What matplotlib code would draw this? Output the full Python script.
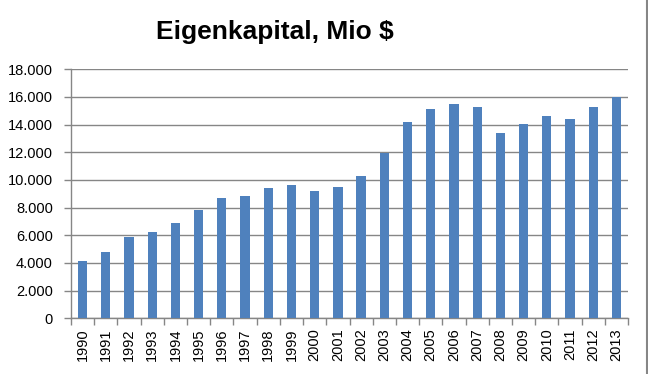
import numpy as np
import matplotlib
matplotlib.use('Agg')
import matplotlib.pyplot as plt
from matplotlib.lines import Line2D
from matplotlib.ticker import FuncFormatter

years = [str(y) for y in range(1990, 2014)]
equity = [4150, 4800, 5880, 6240, 6890, 7830, 8700, 8840, 9420, 9640,
          9200, 9490, 10290, 11950, 14190, 15130, 15490, 15280, 13400, 14050,
          14630, 14410, 15280, 16000]

plt.rcParams['font.family'] = ['Liberation Sans', 'DejaVu Sans']
grey = '#868686'

fig = plt.figure(figsize=(6.48, 3.74), dpi=100)
ax = fig.add_axes([71/648, 1-318.3/374, (628-71)/648, (318.3-69.3)/374])

x = np.arange(len(years))
ax.bar(x, equity, width=0.4, color='#4F81BD', zorder=3)

ax.set_xlim(-0.5, len(years)-0.5)
ax.set_ylim(0, 18000)
ax.set_yticks(np.arange(0, 18001, 2000))
ax.yaxis.set_major_formatter(FuncFormatter(lambda v, p: '{:,.0f}'.format(v).replace(',', '.')))
ax.set_xticks(x)
ax.set_xticklabels(years, rotation=90, fontsize=10.5)
ax.set_xticks(np.arange(-0.5, len(years), 1), minor=True)
ax.tick_params(axis='x', which='major', length=0, pad=7)
ax.tick_params(axis='x', which='minor', length=5, color=grey, width=1)
ax.tick_params(axis='y', length=5, color=grey, width=1, labelsize=10.5, pad=8)

ax.grid(axis='y', color=grey, linewidth=1, zorder=0)
for s in ['top', 'right']:
    ax.spines[s].set_visible(False)
for s in ['left', 'bottom']:
    ax.spines[s].set_color(grey)
    ax.spines[s].set_linewidth(1)

fig.text(275/648, 1-32/374, 'Eigenkapital, Mio $', fontsize=19, fontweight='bold',
         ha='center', va='center')
fig.add_artist(Line2D([646.5/648, 646.5/648], [0, 1], transform=fig.transFigure,
                      color=grey, linewidth=1.5))

fig.savefig('out.png', dpi=100)
